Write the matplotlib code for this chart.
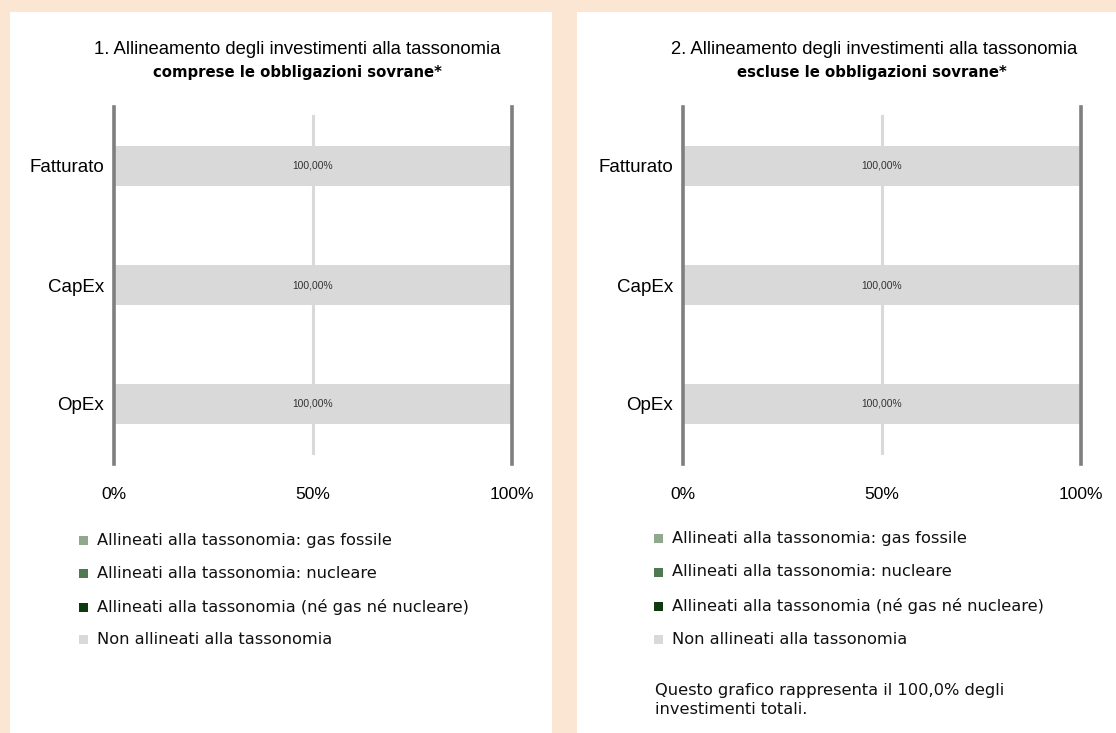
import matplotlib
matplotlib.use("Agg")
import matplotlib.pyplot as plt
from matplotlib.patches import Rectangle

categories = ["Fatturato", "CapEx", "OpEx"]
not_aligned_incl = [100.0, 100.0, 100.0]
not_aligned_excl = [100.0, 100.0, 100.0]
xticks = [0, 50, 100]
xtick_labels = ["0%", "50%", "100%"]
legend_labels = [
    "Allineati alla tassonomia: gas fossile",
    "Allineati alla tassonomia: nucleare",
    "Allineati alla tassonomia (né gas né nucleare)",
    "Non allineati alla tassonomia",
]
legend_colors = ["#8fa88e", "#4d7a50", "#0d3b0d", "#d9d9d9"]
titles1 = ["1. Allineamento degli investimenti alla tassonomia",
           "2. Allineamento degli investimenti alla tassonomia"]
titles2 = ["comprese le obbligazioni sovrane*", "escluse le obbligazioni sovrane*"]
note = "Questo grafico rappresenta il 100,0% degli\ninvestimenti totali."

W, H = 1116, 733
fig = plt.figure(figsize=(W / 100, H / 100), dpi=100)
fig.patch.set_facecolor("#fbe6d4")

def fx(px):
    return px / W

def fy(py):
    return 1 - py / H

# white panels
for x0, x1 in [(10, 552), (577, 1116)]:
    fig.patches.append(Rectangle((fx(x0), 0), fx(x1 - x0), fy(12), transform=fig.transFigure,
                                 facecolor="white", edgecolor="none", zorder=-10))

panels = [(114, 512, not_aligned_incl, 297.5, 297.5, 83),
          (683, 1081, not_aligned_excl, 874, 871.5, 658)]
for i, (xl, xr, vals, tc1, tc2, mx) in enumerate(panels):
    ax = fig.add_axes([fx(xl), fy(463.5), fx(xr - xl), (463.5 - 106.5) / H])
    ax.set_facecolor("none")
    y = list(range(len(categories)))
    bars = ax.barh(y, vals, height=0.34, color="#d9d9d9", zorder=2)
    for b, v in zip(bars, vals):
        ax.text(50, b.get_y() + b.get_height() / 2, f"{v:.2f}%".replace(".", ","),
                ha="center", va="center", fontsize=7.4, color="#333333",
                family="Liberation Sans", zorder=4)
    ax.set_xlim(0, 100)
    ax.set_ylim(2.5, -0.5)
    ax.axvline(50, ymin=0.03, ymax=0.973, color="#d9d9d9", lw=2.2, zorder=1)
    ax.axvline(0, color="#7f7f7f", lw=2.6, zorder=3, clip_on=False)
    ax.axvline(100, color="#7f7f7f", lw=2.6, zorder=3, clip_on=False)
    for s in ax.spines.values():
        s.set_visible(False)
    ax.set_yticks(y)
    ax.set_yticklabels(categories, family="Liberation Sans", fontsize=13.5)
    ax.set_xticks(xticks)
    ax.set_xticklabels(xtick_labels, family="Liberation Sans", fontsize=12.5)
    ax.tick_params(axis="both", length=0)
    ax.tick_params(axis="x", pad=17)
    ax.tick_params(axis="y", pad=7)

    fig.text(fx(tc1), fy(50), titles1[i], ha="center", va="center", fontsize=13.3,
             family="Liberation Sans")
    fig.text(fx(tc2), fy(72), titles2[i], ha="center", va="center", fontsize=10.7,
             family="DejaVu Sans", fontweight="bold")

    # legend
    rows = [540, 573, 607, 639] if i == 0 else [538, 572, 606, 639]
    for lab, col, ry in zip(legend_labels, legend_colors, rows):
        fig.patches.append(Rectangle((fx(mx - 4.5), fy(ry + 4.5)), fx(9), 9 / H,
                                     transform=fig.transFigure, facecolor=col,
                                     edgecolor="none", zorder=2))
        fig.text(fx(mx + 14), fy(ry), lab, ha="left", va="center", fontsize=11.7,
                 family="DejaVu Sans", color="#111111")

fig.text(fx(655), fy(700), note, ha="left", va="center", fontsize=11.7,
         family="DejaVu Sans", color="#111111", linespacing=1.35)

fig.savefig("out.png", dpi=100, facecolor=fig.get_facecolor())
